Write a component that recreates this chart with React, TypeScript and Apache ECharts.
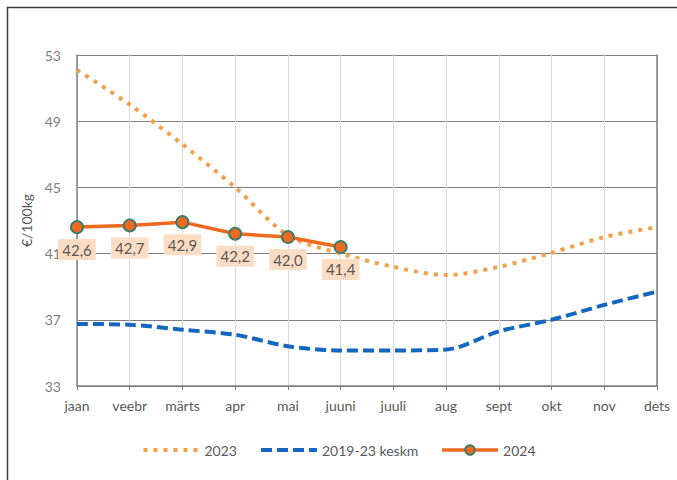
import React, { useEffect, useRef } from "react";
import * as echarts from "echarts";

const months = ["jaan", "veebr", "märts", "apr", "mai", "juuni", "juuli", "aug", "sept", "okt", "nov", "dets"];
const y2023 = [52.1, 50.0, 47.6, 45.0, 42.1, 41.0, 40.2, 39.7, 40.2, 41.05, 42.0, 42.6];
const avg1923 = [36.75, 36.7, 36.4, 36.1, 35.4, 35.15, 35.15, 35.2, 36.3, 37.0, 37.9, 38.7];
const y2024 = [42.6, 42.7, 42.9, 42.2, 42.0, 41.4];
const yTicks = { min: 33, max: 53, interval: 4 };

const FONT = "Lato, 'Liberation Sans', sans-serif";
const C2023 = "#f4a04a";
const CAVG = "#1467be";
const C2024 = "#ef6a1e";

export default function App() {
  const ref = useRef<HTMLDivElement>(null);
  useEffect(() => {
    document.body.style.margin = "0";
    const chart = echarts.init(ref.current!, undefined, { renderer: "svg" });
    chart.setOption({
      animation: false,
      backgroundColor: "#ffffff",
      textStyle: { fontFamily: FONT },
      graphic: [
        {
          type: "rect",
          shape: { x: 7.5, y: 7.5, width: 700, height: 500 },
          style: { fill: "none", stroke: "#3a3a3a", lineWidth: 1.5 },
          silent: true,
          z: -1,
        },
      ],
      grid: { left: 77, right: 20, top: 55, bottom: 94 },
      legend: {
        bottom: 18,
        left: "center",
        itemWidth: 56,
        itemHeight: 12,
        itemGap: 22,
        textStyle: { color: "#595959", fontSize: 14, fontFamily: FONT },
        data: [
          { name: "2023", itemStyle: { opacity: 0 }, lineStyle: { color: C2023, width: 4, type: [4, 6], cap: "butt" } },
          { name: "2019-23 keskm", itemStyle: { opacity: 0 }, lineStyle: { color: CAVG, width: 4, type: [11, 5], cap: "butt" } },
          { name: "2024", lineStyle: { color: C2024, width: 3.5 } },
        ],
      },
      xAxis: {
        type: "category",
        data: months,
        boundaryGap: false,
        axisLine: { show: true, lineStyle: { color: "#7f7f7f", width: 1.5 } },
        axisTick: { show: true, length: 4, alignWithLabel: true, lineStyle: { color: "#7f7f7f" } },
        axisLabel: { color: "#595959", fontSize: 14, margin: 12, fontFamily: FONT },
        splitLine: { show: true, lineStyle: { color: "#d9d9d9", width: 1 } },
      },
      yAxis: [
        {
          type: "value",
          min: yTicks.min,
          max: yTicks.max,
          interval: yTicks.interval,
          name: "€/100kg",
          nameLocation: "middle",
          nameGap: 42,
          nameTextStyle: { color: "#595959", fontSize: 14, fontFamily: FONT },
          axisLine: { show: true, lineStyle: { color: "#7f7f7f", width: 1.5 } },
          axisTick: { show: false },
          axisLabel: { color: "#7f7f7f", fontSize: 14, margin: 16, fontFamily: FONT },
          splitLine: { show: true, lineStyle: { color: "#7f7f7f", width: 1.2 } },
        },
        {
          type: "value",
          position: "right",
          min: yTicks.min,
          max: yTicks.max,
          interval: yTicks.interval,
          axisLine: { show: true, lineStyle: { color: "#7f7f7f", width: 1.5 } },
          axisTick: { show: false },
          axisLabel: { show: false },
          splitLine: { show: false },
        },
      ],
      series: [
        {
          name: "2023",
          type: "line",
          data: y2023,
          smooth: 0.3,
          symbol: "none",
          z: 2,
          itemStyle: { color: C2023 },
          lineStyle: { color: C2023, width: 4, type: [4, 6], cap: "butt" },
        },
        {
          name: "2019-23 keskm",
          type: "line",
          data: avg1923,
          smooth: 0.3,
          symbol: "none",
          z: 2,
          itemStyle: { color: CAVG },
          lineStyle: { color: CAVG, width: 4, type: [11, 5], cap: "butt" },
        },
        {
          name: "2024",
          type: "line",
          data: y2024,
          smooth: false,
          symbol: "circle",
          symbolSize: 12,
          z: 5,
          itemStyle: { color: C2024, borderColor: "#3f7d6a", borderWidth: 2 },
          lineStyle: { color: C2024, width: 3.5 },
          label: {
            show: true,
            position: "bottom",
            distance: 5,
            formatter: (p: any) => String(p.value.toFixed(1)).replace(".", ","),
            color: "#595959",
            fontSize: 15,
            fontFamily: FONT,
            backgroundColor: "#fcdcc2",
            padding: [3, 4, 3, 4],
          },
        },
      ],
    });
    return () => chart.dispose();
  }, []);
  return <div ref={ref} style={{ width: 677, height: 480 }} />;
}
